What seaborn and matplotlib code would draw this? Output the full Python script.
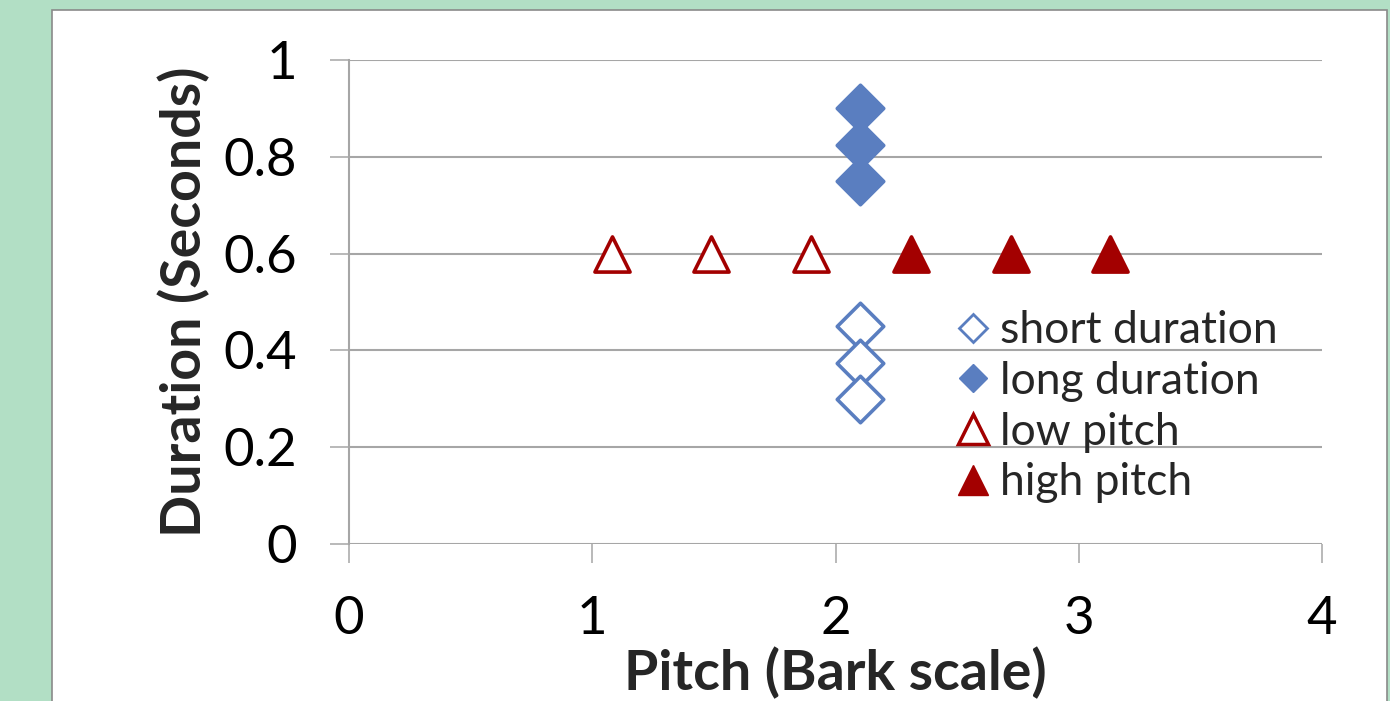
import matplotlib
matplotlib.use("Agg")
import matplotlib.pyplot as plt
import seaborn as sns
import pandas as pd
from matplotlib.lines import Line2D
from matplotlib.patches import Rectangle

# data
short_pitch = [2.1, 2.1, 2.1]
short_dur = [0.45, 0.375, 0.30]
long_pitch = [2.1, 2.1, 2.1]
long_dur = [0.90, 0.825, 0.75]
low_pitch = [1.08, 1.49, 1.90]
low_dur = [0.6, 0.6, 0.6]
high_pitch = [2.31, 2.72, 3.13]
high_dur = [0.6, 0.6, 0.6]
labels = ["short duration", "long duration", "low pitch", "high pitch"]

blue = "#5A7EC0"
red = "#A30000"
grid_col = "#A6A6A6"

sns.set_theme(style="white")
plt.rcParams["font.family"] = ["Lato", "DejaVu Sans"]

fig = plt.figure(figsize=(13.9, 7.01), dpi=100)
fig.patch.set_facecolor("#B2DFC5")
# white slide panel with grey border
fig.patches.append(Rectangle((52 / 1390, -0.1), (1387 - 52) / 1390, 1.1 - 10 / 701,
                             transform=fig.transFigure, facecolor="white",
                             edgecolor="#8A8A8A", linewidth=1.2, zorder=-10))

ax = fig.add_axes([349 / 1390, 1 - 544 / 701, (1322 - 349) / 1390, (544 - 60) / 701])
ax.set_zorder(5)
ax.set_facecolor("white")

groups = [
    (short_pitch, short_dur, "D", "white", blue, 560),
    (long_pitch, long_dur, "D", blue, blue, 560),
    (low_pitch, low_dur, "^", "white", red, 640),
    (high_pitch, high_dur, "^", red, red, 640),
]
for (xs, ys, m, fc, ec, s), lab in zip(groups, labels):
    df = pd.DataFrame({"pitch": xs, "duration": ys})
    sns.scatterplot(data=df, x="pitch", y="duration", ax=ax, marker=m, s=s,
                    facecolor=fc, edgecolor=ec, linewidth=2.6, zorder=3, clip_on=False)

ax.set_xlim(0, 4)
ax.set_ylim(0, 1)
ax.set_xticks([0, 1, 2, 3, 4])
ax.set_yticks([0, 0.2, 0.4, 0.6, 0.8, 1.0])
ax.set_xticklabels(["0", "1", "2", "3", "4"])
ax.set_yticklabels(["0", "0.2", "0.4", "0.6", "0.8", "1"])
ax.grid(axis="y", color=grid_col, linewidth=1.5)
for side in ["top", "right", "bottom"]:
    ax.spines[side].set_visible(False)
ax.spines["left"].set_color(grid_col)
ax.spines["left"].set_linewidth(1.5)
ax.tick_params(axis="x", direction="out", length=13.5, width=1.1, color=grid_col,
               bottom=True, labelsize=38, pad=24, labelcolor="black")
ax.tick_params(axis="y", direction="out", length=13.5, width=1.1, color=grid_col,
               left=True, labelsize=38, pad=24, labelcolor="black")

ax.set_xlabel("Pitch (Bark scale)", fontsize=40, fontweight="bold")
ax.set_ylabel("Duration (Seconds)", fontsize=40, fontweight="bold")
ax.xaxis.set_label_coords(0.5, -0.212)
ax.yaxis.set_label_coords(-0.143, 0.5)

handles = [
    Line2D([], [], marker="D", linestyle="none", markersize=14, markerfacecolor="white",
           markeredgecolor=blue, markeredgewidth=2),
    Line2D([], [], marker="D", linestyle="none", markersize=14, markerfacecolor=blue,
           markeredgecolor=blue),
    Line2D([], [], marker="^", linestyle="none", markersize=21, markerfacecolor="white",
           markeredgecolor=red, markeredgewidth=2.5),
    Line2D([], [], marker="^", linestyle="none", markersize=21, markerfacecolor=red,
           markeredgecolor=red),
]
ax.legend(handles, labels, loc="upper left", bbox_to_anchor=(0.605, 0.52), frameon=False,
          fontsize=32, handlelength=0.8, handletextpad=0.2, labelspacing=0.22,
          borderaxespad=0)

fig.savefig("out.png", dpi=100, facecolor=fig.get_facecolor())
